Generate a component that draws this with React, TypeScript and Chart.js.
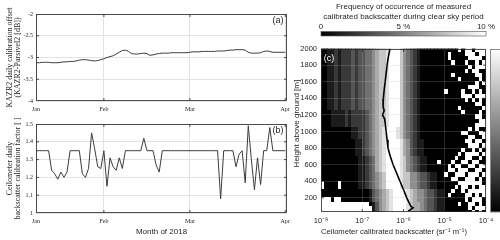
import React, { useEffect, useRef } from 'react';
import { Chart, registerables } from 'chart.js';
Chart.register(...registerables);

const SERIF = '"Liberation Serif", "Times New Roman", serif';
const SANS = '"Liberation Sans", Arial, sans-serif';
const TEXT = '#262626';

// ---------- Panels (a) and (b): daily values, x = day of 2018 (Jan 1 = 0) ----------
const firstDay = 9;
const kazrOffsetDb = [
  -3.12, -3.12, -3.11, -3.11, -3.11, -3.12, -3.12, -3.12, -3.11, -3.10,
  -3.10, -3.09, -3.09, -3.08, -3.06, -3.05, -3.05, -3.06, -3.07, -3.08,
  -3.07, -3.05, -3.03, -3.00, -2.98, -2.96, -2.92, -2.88, -2.84, -2.83,
  -2.86, -2.91, -2.92, -2.92, -2.91, -2.90, -2.91, -2.95, -2.94, -2.92,
  -2.91, -2.90, -2.90, -2.90, -2.89, -2.89, -2.89, -2.89, -2.89, -2.89,
  -2.88, -2.87, -2.87, -2.87, -2.86, -2.86, -2.86, -2.86, -2.86, -2.85,
  -2.85, -2.85, -2.84, -2.83, -2.83, -2.82, -2.82, -2.82, -2.83, -2.88,
  -2.90, -2.90, -2.90, -2.89, -2.86, -2.85, -2.86, -2.88, -2.88, -2.88,
  -2.88, -2.88,
];
const ceiloFactor = [
  1.35, 1.35, 1.35, 1.35, 1.35, 1.24, 1.22, 1.19, 1.23, 1.20,
  1.23, 1.35, 1.35, 1.35, 1.35, 1.22, 1.20, 1.25, 1.45, 1.36,
  1.26, 1.25, 1.35, 1.15, 1.31, 1.26, 1.24, 1.31, 1.25, 1.35,
  1.35, 1.35, 1.35, 1.35, 1.35, 1.42, 1.35, 1.35, 1.35, 1.27,
  1.23, 1.35, 1.35, 1.35, 1.35, 1.35, 1.35, 1.35, 1.35, 1.35,
  1.35, 1.35, 1.35, 1.35, 1.35, 1.35, 1.35, 1.35, 1.35, 1.35,
  1.08, 1.35, 1.35, 1.35, 1.35, 1.26, 1.33, 1.35, 1.17, 1.49,
  1.30, 1.13, 1.31, 1.16, 1.35, 1.35, 1.48, 1.35, 1.35, 1.35,
  1.35, 1.35,
];
const dayAxisMin = 8.9;
const dayAxisMax = 90.6;
const monthTickDays = [8.9, 31, 59, 90];
const monthLabels = ['Jan', 'Feb', 'Mar', 'Apr'];
const kazrTicks = [-4, -3.5, -3, -2.5, -2];
const ceiloTicks = [1, 1.1, 1.2, 1.3, 1.4, 1.5];

// ---------- Panel (c) ----------
const heightTicks = [200, 400, 600, 800, 1000, 1200, 1400, 1600, 1800, 2000];
const backscatterTicks = [1e-8, 1e-7, 1e-6, 1e-5, 1e-4];
const backscatterTickLabels = ['10\u207B\u2078', '10\u207B\u2077', '10\u207B\u2076', '10\u207B\u2075', '10\u207B\u2074'];
const meanProfileHeights = [2000, 1900, 1800, 1700, 1600, 1500, 1400, 1300, 1250, 1200, 1150, 1100, 1000, 900, 800, 700, 600, 500, 400, 300, 200, 130, 100, 80, 60, 40];
const meanProfileBackscatter = [4.7e-7, 4.3e-7, 4.0e-7, 3.8e-7, 3.6e-7, 3.4e-7, 3.25e-7, 3.2e-7, 3.4e-7, 3.1e-7, 3.5e-7, 3.6e-7, 3.8e-7, 4.0e-7, 4.2e-7, 4.8e-7, 5.6e-7, 6.8e-7, 8.2e-7, 1.0e-6, 1.2e-6, 1.4e-6, 1.5e-6, 1.7e-6, 1.5e-6, 1.3e-6];
// frequency bins: columns = 1/12 decade from 1e-8, rows = 50 m, listed top (2000 m) to bottom
// digits = frequency level 0..9 (0 % .. 10 %), x = no data
const freqBinLogStart = -8;
const freqBinsPerDecade = 12;
const freqBinHeight = 50;
const freqRowsTopDown = [
  '0011212223233445677899975432100000000000x0xx0xxx',
  '0011212223233445677899975432100000000x0000xxx0xx',
  '0011212223233445677899975432100000000x00000xxxx0',
  '00112122232334456778999754321000000000x000x00x0x',
  '0011212223233445677899975432100000000000000x0xxx',
  '001121222323344567789997543210000000000000x0xx00',
  '00112122232334456778999754321000000000x000000xx0',
  '0011212223233445677899975432100000000000x00000x0',
  '001121222323344567789997543210000000000000000x0x',
  '0011212223233445677899975432100000000000000xxx00',
  '001121222323344567789997543210000000x0000x00x0x0',
  '00112122232334456778999754321000000000000xxx0xxx',
  '001121222323344567789997543210000000000000x0x0x0',
  '001121222323344567789997543210000000000000000xx0',
  '0011212223233445677899975432100000000000x000000x',
  '00011112122223456778999754321000000000000x0000x0',
  '000111121222234567789997543210000000000000000xx0',
  '0001111212222345677899975432100000000000000000xx',
  '000111121222234567789997543210000000000000000xxx',
  '0000000001122345678999875432100000000000000x0x00',
  '00000000011223456789998754321000000000000xx000xx',
  '0000000001122345678999875432100000000000000xx00x',
  '000000000011234567899998653211000000000000xx0xx0',
  '0000000000112345678999986532110000000000000xxx0x',
  '00000000001123456789999865321100000000000x00x0x0',
  '0000000000112345678999986532110000000000x0xxxx0x',
  '000000000001123467899998754321100000000x00xx00x0',
  '0000000000011234678999987543211000x000x00xx0xx00',
  '0000000000011234678999987543211000000x0xx00xx0xx',
  '0000000000011234678999987543211000000xx0xxx00xx0',
  '000000000001123456799998775543321100x00xxx0xxx0x',
  '00000000000112345679999877554332110000xx00xxx0x0',
  'x0000x0000011234567999987755433211000000xxxxxxx0',
  'x0000x000001123456799998775543321100000x0xx0x0xx',
  '00000000000000134567899998765543321100x00x0xxxxx',
  '0000000000000013456789999876554332110x0000xx0x0x',
  'xxx0xx000000001345678999987655433211000000x0xxx0',
  'xxxxxxxxxxxxxx01356789999876654332110000x00xx0x0',
  'xxxxxxxxxxxxxxx1356789999876654332110000000x0xxx',
  'xxxxxxxxxxxxxxx13567899998766543321100000000x0x0',
];
const colorbarTicks = [0, 5, 10];
const colorbarLabels = ['0', '5 %', '10 %'];
const colorbarMax = 10;

// ---------- shared plugins ----------
const framePlugin = {
  id: 'frame',
  afterDraw(chart: any) {
    const { ctx, chartArea: a, scales } = chart;
    ctx.save();
    ctx.strokeStyle = TEXT;
    ctx.lineWidth = 0.8;
    const L = Math.round(a.left) + 0.5, R = Math.round(a.right) - 0.5;
    const T = Math.round(a.top) + 0.5, B = Math.round(a.bottom) - 0.5;
    ctx.strokeRect(L, T, R - L, B - T);
    const tl = 2.5;
    ctx.beginPath();
    for (const t of scales.x.ticks) {
      const p = scales.x.getPixelForValue(t.value);
      if (p <= a.left + 1 || p >= a.right - 1) continue;
      ctx.moveTo(p, B); ctx.lineTo(p, B - tl);
      ctx.moveTo(p, T); ctx.lineTo(p, T + tl);
    }
    for (const t of scales.y.ticks) {
      const p = scales.y.getPixelForValue(t.value);
      if (p <= a.top + 1 || p >= a.bottom - 1) continue;
      ctx.moveTo(L, p); ctx.lineTo(L + tl, p);
      ctx.moveTo(R, p); ctx.lineTo(R - tl, p);
    }
    ctx.stroke();
    ctx.restore();
  },
};

const panelLabel = (text: string, dx: number, dy: number, color: string, fromLeft: boolean) => ({
  id: 'panelLabel',
  afterDraw(chart: any) {
    const { ctx, chartArea: a } = chart;
    ctx.save();
    ctx.font = `9px ${SANS}`;
    ctx.fillStyle = color;
    ctx.textAlign = 'center';
    ctx.textBaseline = 'middle';
    ctx.fillText(text, fromLeft ? a.left + dx : a.right - dx, a.top + dy);
    ctx.restore();
  },
});

const heatmapPlugin = {
  id: 'heatmap',
  beforeDatasetsDraw(chart: any) {
    const { ctx, chartArea: a, scales: { x, y } } = chart;
    ctx.save();
    ctx.beginPath();
    ctx.rect(a.left, a.top, a.right - a.left, a.bottom - a.top);
    ctx.clip();
    const n = freqRowsTopDown.length;
    freqRowsTopDown.forEach((row, t) => {
      const hLow = (n - 1 - t) * freqBinHeight;
      const yTop = Math.floor(y.getPixelForValue(hLow + freqBinHeight));
      const yBot = Math.ceil(y.getPixelForValue(hLow));
      for (let c = 0; c < row.length; c++) {
        const ch = row[c];
        const x0 = Math.floor(x.getPixelForValue(Math.pow(10, freqBinLogStart + c / freqBinsPerDecade)));
        const x1 = Math.ceil(x.getPixelForValue(Math.pow(10, freqBinLogStart + (c + 1) / freqBinsPerDecade)));
        const pct = ch === 'x' ? colorbarMax : (Number(ch) * colorbarMax) / 9;
        const g = Math.round((Math.min(pct, colorbarMax) / colorbarMax) * 255);
        ctx.fillStyle = `rgb(${g},${g},${g})`;
        ctx.fillRect(x0, yTop, x1 - x0, yBot - yTop);
      }
    });
    ctx.restore();
  },
  afterDraw(chart: any) {
    // neighbouring (cut-off) colour bar on the right edge
    const { ctx, chartArea: a, width } = chart;
    const left = Math.round(a.right) + 4;
    ctx.save();
    const grad = ctx.createLinearGradient(0, a.top, 0, a.bottom);
    grad.addColorStop(0, '#ffffff');
    grad.addColorStop(1, '#000000');
    ctx.fillStyle = grad;
    ctx.fillRect(left, a.top, width - left, a.bottom - a.top);
    ctx.strokeStyle = '#8a8a8a';
    ctx.lineWidth = 1;
    ctx.strokeRect(left + 0.5, Math.round(a.top) + 0.5, width - left + 2, a.bottom - a.top - 1);
    ctx.restore();
  },
};

const colorbarPlugin = {
  id: 'colorbar',
  beforeDatasetsDraw(chart: any) {
    const { ctx, chartArea: a, scales: { x } } = chart;
    const x0 = x.getPixelForValue(colorbarTicks[0]);
    const x1 = x.getPixelForValue(colorbarMax);
    ctx.save();
    const grad = ctx.createLinearGradient(x0, 0, x1, 0);
    grad.addColorStop(0, '#000000');
    grad.addColorStop(1, '#ffffff');
    ctx.fillStyle = grad;
    ctx.fillRect(x0, a.top, x1 - x0, a.bottom - a.top);
    ctx.strokeStyle = '#555';
    ctx.lineWidth = 0.6;
    ctx.strokeRect(x0, a.top, x1 - x0, a.bottom - a.top);
    ctx.restore();
  },
};

const common = {
  responsive: false,
  maintainAspectRatio: false,
  animation: false as const,
  devicePixelRatio: 1,
  events: [] as any[],
};

function timeChartConfig(values: number[], yMin: number, yMax: number, yTicks: number[], yTitle: string[], padTop: number, xTitle: string | null, xHeight: number, label: string) {
  return {
    type: 'scatter' as const,
    data: {
      datasets: [{
        data: values.map((v, i) => ({ x: firstDay + i, y: v })),
        showLine: true,
        borderColor: '#3c3c3c',
        borderWidth: 1,
        pointRadius: 0,
        tension: 0,
      }],
    },
    options: {
      ...common,
      layout: { padding: { top: padTop, right: 13, left: 0, bottom: 0 } },
      plugins: { legend: { display: false }, tooltip: { enabled: false }, title: { display: false } },
      scales: {
        x: {
          type: 'linear' as const,
          min: dayAxisMin,
          max: dayAxisMax,
          afterBuildTicks: (s: any) => { s.ticks = monthTickDays.map((v) => ({ value: v })); },
          afterFit: (s: any) => { s.height = xHeight; },
          ticks: {
            autoSkip: false, maxRotation: 0, padding: 4.5,
            font: { family: SERIF, size: 6 }, color: TEXT,
            callback: (_v: any, i: number) => monthLabels[i],
          },
          grid: { color: '#e2e2e2', drawTicks: false, lineWidth: 1 },
          border: { display: false },
          title: xTitle ? {
            display: true, text: xTitle, color: TEXT,
            font: { family: SANS, size: 8 }, padding: { top: 0, bottom: 3.2 },
          } : { display: false },
        },
        y: {
          min: yMin,
          max: yMax,
          afterBuildTicks: (s: any) => { s.ticks = yTicks.map((v) => ({ value: v })); },
          afterFit: (s: any) => { s.width = 36; },
          ticks: {
            padding: 3, font: { family: SERIF, size: 6 }, color: TEXT,
            callback: (v: any) => String(v),
          },
          grid: { color: '#e2e2e2', drawTicks: false, lineWidth: 1 },
          border: { display: false },
          title: {
            display: true, text: yTitle, color: TEXT,
            font: { family: SERIF, size: 8, lineHeight: 1 }, padding: { top: 5.5, bottom: 0 },
          },
        },
      },
    },
    plugins: [framePlugin, panelLabel(label, 9, 7, TEXT, false)],
  };
}

export default function App() {
  const aRef = useRef<HTMLCanvasElement>(null);
  const bRef = useRef<HTMLCanvasElement>(null);
  const cbRef = useRef<HTMLCanvasElement>(null);
  const cRef = useRef<HTMLCanvasElement>(null);

  useEffect(() => {
    const charts: Chart[] = [];
    charts.push(new Chart(aRef.current!, timeChartConfig(
      kazrOffsetDb, -4, -2, kazrTicks,
      ['KAZR2 daily calibration offset', '(KAZR2-Parsivel2 [dB])'], 14, null, 11, '(a)') as any));
    charts.push(new Chart(bRef.current!, timeChartConfig(
      ceiloFactor, 1, 1.5, ceiloTicks,
      ['Ceilometer daily', 'backscatter calibration factor [ ]'], 12, 'Month of 2018', 27, '(b)') as any));

    charts.push(new Chart(cbRef.current!, {
      type: 'scatter',
      data: { datasets: [] },
      options: {
        ...common,
        layout: { padding: { top: 0, right: 14, left: 41, bottom: 4 } },
        plugins: {
          legend: { display: false }, tooltip: { enabled: false },
          title: {
            display: true,
            text: ['Frequency of occurrence of measured', 'calibrated backscatter during clear sky period'],
            color: TEXT, font: { family: SANS, size: 8, lineHeight: 1.25, weight: 'normal' },
            padding: { top: 2, bottom: 0 },
          },
        },
        scales: {
          x: {
            type: 'linear', position: 'top', min: 0, max: colorbarMax,
            afterBuildTicks: (s: any) => { s.ticks = colorbarTicks.map((v) => ({ value: v })); },
            afterFit: (s: any) => { s.height = 9.5; },
            ticks: {
              autoSkip: false, maxRotation: 0, padding: 0,
              font: { family: SANS, size: 8 }, color: TEXT,
              callback: (_v: any, i: number) => colorbarLabels[i],
            },
            grid: { display: false, drawTicks: false },
            border: { display: false },
          },
          y: { display: false, min: 0, max: 1 },
        },
      },
      plugins: [colorbarPlugin],
    } as any));

    charts.push(new Chart(cRef.current!, {
      type: 'scatter',
      data: {
        datasets: [{
          data: meanProfileHeights.map((h, i) => ({ x: meanProfileBackscatter[i], y: h })),
          showLine: true,
          borderColor: '#000000',
          borderWidth: 1.6,
          pointRadius: 0,
        }],
      },
      options: {
        ...common,
        layout: { padding: { top: 5, right: 14, left: 0, bottom: 0 } },
        plugins: { legend: { display: false }, tooltip: { enabled: false } },
        scales: {
          x: {
            type: 'logarithmic', min: 1e-8, max: 1e-4,
            afterBuildTicks: (s: any) => { s.ticks = backscatterTicks.map((v) => ({ value: v })); },
            afterFit: (s: any) => { s.height = 28; },
            ticks: {
              autoSkip: false, maxRotation: 0, padding: 4.5,
              font: { family: SANS, size: 7.5 }, color: TEXT,
              callback: (_v: any, i: number) => backscatterTickLabels[i],
            },
            grid: { color: 'rgba(190,190,190,0.22)', drawTicks: false, z: 1 },
            border: { display: false },
            title: {
              display: true,
              text: 'Ceilometer calibrated backscatter (sr\u207B\u00B9 m\u207B\u00B9)' + '\u00A0'.repeat(9),
              color: TEXT, font: { family: SANS, size: 8 }, padding: { top: 0, bottom: 3.2 },
            },
          },
          y: {
            min: 30, max: 2000,
            afterBuildTicks: (s: any) => { s.ticks = heightTicks.map((v) => ({ value: v })); },
            afterFit: (s: any) => { s.width = 41; },
            ticks: {
              padding: 4, font: { family: SANS, size: 7.5 }, color: TEXT,
              callback: (v: any) => String(v),
            },
            grid: { color: 'rgba(190,190,190,0.22)', drawTicks: false, z: 1 },
            border: { display: false },
            title: {
              display: true,
              text: '\u00A0'.repeat(6) + 'Height above ground [m]',
              color: TEXT, font: { family: SANS, size: 8 }, padding: { top: 12, bottom: 0 },
            },
          },
        },
      },
      plugins: [heatmapPlugin, framePlugin, panelLabel('(c)', 8, 10, '#ffffff', true)],
    } as any));

    return () => charts.forEach((c) => c.destroy());
  }, []);

  const abs = (left: number, top: number, w: number, h: number): React.CSSProperties => ({
    position: 'absolute', left, top, width: w, height: h, display: 'block',
  });

  return (
    <div style={{ position: 'absolute', left: 0, top: 0, width: 500, height: 240, background: '#ffffff', overflow: 'hidden' }}>
      <canvas ref={aRef} width={300} height={112} style={abs(0, 0, 300, 112)} />
      <canvas ref={bRef} width={300} height={128} style={abs(0, 112, 300, 128)} />
      <canvas ref={cbRef} width={220} height={40} style={abs(280, 0, 220, 40)} />
      <canvas ref={cRef} width={220} height={200} style={abs(280, 40, 220, 200)} />
    </div>
  );
}
